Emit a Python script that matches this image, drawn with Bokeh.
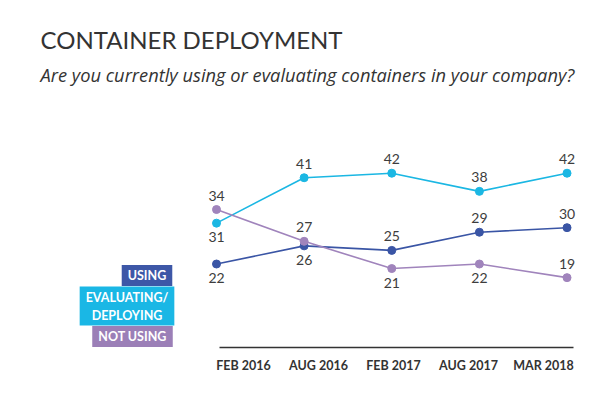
from bokeh.plotting import figure
from bokeh.models import Range1d, LinearAxis, FixedTicker, Label, ColumnDataSource
from bokeh.embed import file_html
from bokeh.resources import INLINE
from bokeh.core.properties import value

# ---- data ----
periods = ["FEB 2016", "AUG 2016", "FEB 2017", "AUG 2017", "MAR 2018"]
using = [22, 26, 25, 29, 30]
evaluating = [31, 41, 42, 38, 42]
not_using = [34, 27, 21, 22, 19]
# label placement per point: 1 above, -1 below
using_pos = [-1, -1, 1, 1, 1]
evaluating_pos = [-1, 1, 1, 1, 1]
not_using_pos = [1, 1, -1, -1, 1]

series_names = ["USING", "EVALUATING/\nDEPLOYING", "NOT USING"]
colors = ["#3a55a5", "#1bb7e3", "#a084bc"]
box_colors = ["#3d57a7", "#1ab7e5", "#9b7fb7"]

FONT = "Lato"
W, H = 600, 390
BOTTOM = 43
FH = H - BOTTOM  # frame height in px

p = figure(width=W, height=H, output_backend="svg", toolbar_location=None,
           x_range=Range1d(-2.465, 4.382), y_range=Range1d(3.61, 80.04),
           min_border_left=0, min_border_right=0, min_border_top=0,
           min_border_bottom=BOTTOM)
p.xaxis.visible = False
p.yaxis.visible = False
p.grid.visible = False
p.outline_line_color = None
p.background_fill_color = "white"
p.border_fill_color = "white"

idx = list(range(len(periods)))

for vals, pos, col in [(using, using_pos, colors[0]),
                       (evaluating, evaluating_pos, colors[1]),
                       (not_using, not_using_pos, colors[2])]:
    src = ColumnDataSource(dict(x=idx, y=vals, t=[str(v) for v in vals],
                                off=[-14 * s for s in pos]))
    p.line("x", "y", source=src, line_color=col, line_width=1.6)
    p.scatter("x", "y", source=src, size=8, fill_color=col, line_color=col)
    p.text("x", "y", text="t", source=src, y_offset="off",
           text_align="center", text_baseline="middle",
           text_font=value(FONT), text_font_size="14px", text_color="#3d3d3d")

# category axis on its own range
p.extra_x_ranges = {"lbl": Range1d(-3.24, 4.76)}
ax = LinearAxis(x_range_name="lbl", ticker=FixedTicker(ticks=idx),
                major_label_overrides={i: s for i, s in zip(idx, periods)},
                bounds=(-0.32, 4.4))
ax.axis_line_color = "#333333"
ax.axis_line_width = 1.3
ax.major_tick_line_color = None
ax.minor_tick_line_color = None
ax.major_tick_out = 0
ax.major_tick_in = 0
ax.major_label_standoff = 10
ax.major_label_text_font = FONT
ax.major_label_text_font_style = "bold"
ax.major_label_text_font_size = "12.5px"
ax.major_label_text_color = "#333333"
p.add_layout(ax, "below")

p.add_layout(Label(x=40, y=FH - 39, x_units="screen", y_units="screen",
                   text="CONTAINER DEPLOYMENT", text_font=FONT,
                   text_font_size="24px", text_color="#333333",
                   text_baseline="alphabetic"))
p.add_layout(Label(x=40, y=FH - 74, x_units="screen", y_units="screen",
                   text="Are you currently using or evaluating containers in your company?",
                   text_font="Open Sans", text_font_style="italic",
                   text_font_size="18.3px", text_color="#333333",
                   text_baseline="alphabetic"))

# legend boxes
box_cx = [146.5, 126.5, 132]
box_cy = [275, 305.5, 336]
for name, bc, cx, cy in zip(series_names, box_colors, box_cx, box_cy):
    p.add_layout(Label(x=cx, y=FH - cy, x_units="screen", y_units="screen",
                       text=name, text_font=FONT, text_font_style="bold",
                       text_font_size="12.5px", text_color="white",
                       text_align="center", text_baseline="middle",
                       background_fill_color=bc, padding=(6, 3)))

open("out.html", "w").write(file_html(p, INLINE))
